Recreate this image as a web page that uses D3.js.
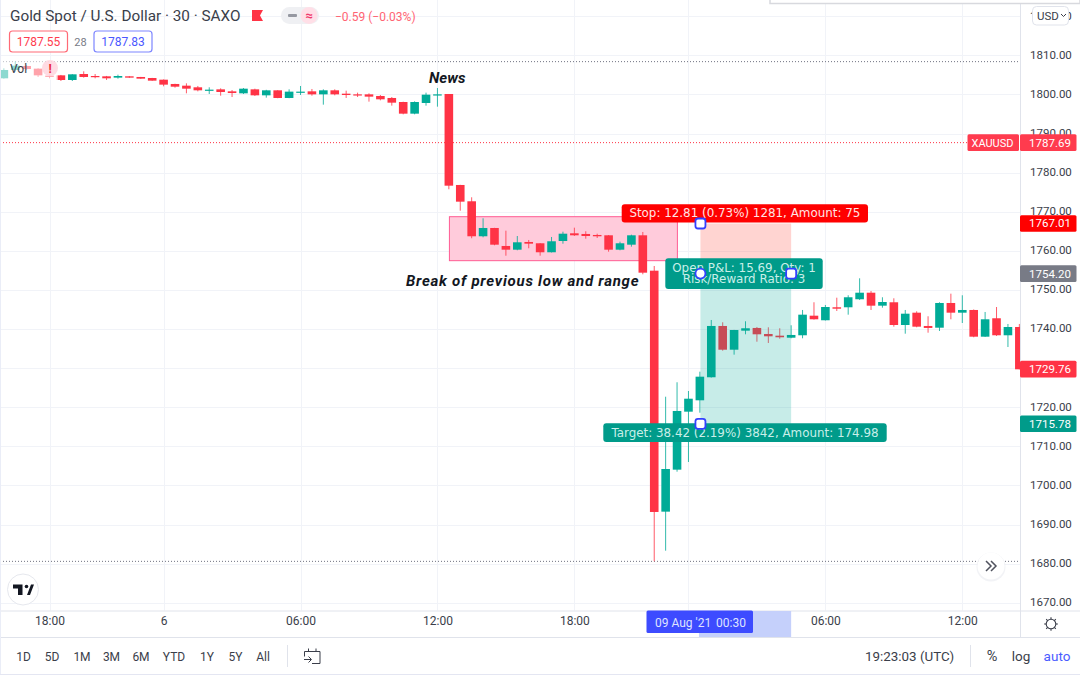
<!DOCTYPE html>
<html><head><meta charset="utf-8">
<script src="https://cdn.jsdelivr.net/npm/d3@7"></script>
<style>
html,body{margin:0;padding:0;background:#fff;overflow:hidden}
svg{display:block}
text{font-family:Roboto,sans-serif}
.lab{font-family:"DejaVu Sans",sans-serif}
</style></head><body>
<svg id="c" width="1080" height="675"></svg>
<script>
// Bar index -4 .. 85 (30 minute bars, index 0 = 18:00 on 5 Aug)
const firstBar = -4;
const opens = [1804.14,1806.27,1807.29,1806.61,1804.82,1804.90,1803.71,1805.24,1804.73,1804.65,1804.31,1804.65,1804.48,1804.22,1803.79,1802.69,1802.26,1801.84,1800.98,1801.32,1800.81,1800.30,1801.32,1799.79,1801.07,1799.11,1800.47,1800.81,1800.04,1801.07,1800.21,1800.04,1800.04,1799.62,1799.11,1798.08,1795.10,1797.83,1799.79,
1800.13,1776.86,1772.69,1763.74,1765.86,1761.26,1760.31,1762.28,1761.95,1759.65,1762.53,1764.50,1764.33,1764.07,1763.99,1760.31,1761.59,1763.99,1754.94,1693.31,1704.05,1718.88,1721.79,1727.68,1740.80,1734.73,1739.60,1740.29,1738.75,1738.32,1737.80,1738.42,1743.43,1742.26,1745.58,1745.58,1747.63,1749.31,1745.99,1746.86,1741.05,1744.20,1740.80,1740.36,1746.68,1744.20,1744.89,1738.06,1742.77,1738.42,1740.54];
const highs = [1806.70,1808.40,1807.50,1806.70,1805.59,1805.00,1805.20,1805.93,1805.24,1804.75,1805.07,1804.70,1804.50,1804.25,1803.85,1802.75,1802.86,1802.18,1801.84,1801.58,1801.15,1801.66,1801.49,1801.20,1801.10,1801.32,1802.18,1801.41,1801.32,1801.32,1800.98,1800.47,1800.30,1799.87,1799.36,1798.15,1798.25,1800.47,1801.66,
1800.13,1776.90,1773.71,1768.34,1765.90,1765.17,1763.81,1762.79,1762.00,1763.56,1764.91,1765.94,1765.02,1764.40,1764.05,1762.36,1764.15,1764.84,1756.14,1722.71,1726.40,1724.17,1729.11,1742.33,1741.74,1739.80,1742.00,1740.54,1740.46,1740.21,1740.98,1744.89,1746.86,1746.17,1748.03,1748.65,1752.99,1749.75,1748.14,1747.88,1744.89,1744.55,1743.28,1746.86,1749.06,1748.65,1745.02,1744.38,1745.65,1741.31,1741.31];
const lows = [1804.05,1805.84,1806.30,1804.48,1804.14,1803.45,1803.45,1804.31,1804.14,1803.71,1804.05,1804.25,1804.00,1803.50,1802.09,1801.75,1800.30,1800.81,1800.13,1799.70,1799.36,1800.13,1799.62,1799.19,1799.05,1799.05,1799.87,1799.70,1797.40,1799.79,1799.11,1799.36,1798.17,1798.51,1797.15,1794.93,1794.93,1797.15,1796.89,
1775.76,1770.28,1763.23,1763.48,1761.44,1758.77,1760.16,1760.67,1758.77,1759.60,1761.84,1763.81,1763.12,1763.30,1759.80,1760.16,1761.08,1754.02,1680.62,1683.33,1703.53,1706.01,1718.62,1727.60,1734.48,1733.46,1738.67,1736.78,1736.45,1737.55,1737.65,1737.65,1742.43,1742.20,1744.63,1743.69,1747.45,1744.89,1745.48,1740.62,1738.83,1740.46,1739.08,1739.52,1742.51,1741.56,1737.91,1738.00,1738.24,1735.42,1729.70];
const closes = [1806.27,1807.38,1806.52,1804.90,1804.65,1803.71,1805.16,1804.48,1804.48,1804.14,1804.73,1804.31,1804.05,1803.54,1802.52,1802.00,1801.49,1801.07,1801.24,1800.64,1800.38,1801.49,1799.79,1801.07,1799.11,1800.73,1800.73,1800.04,1801.07,1800.04,1799.87,1799.79,1799.45,1798.77,1797.91,1795.10,1798.08,1799.96,1800.04,
1776.68,1772.59,1763.74,1765.86,1761.59,1760.31,1762.20,1761.85,1759.65,1762.46,1764.40,1763.99,1763.81,1763.74,1760.31,1761.95,1763.99,1754.43,1693.23,1704.22,1719.06,1722.20,1727.83,1740.80,1734.73,1739.77,1740.21,1738.67,1738.16,1737.91,1738.50,1743.69,1742.51,1745.65,1745.22,1748.14,1749.31,1745.99,1746.93,1741.05,1743.94,1740.62,1740.29,1746.68,1744.20,1744.89,1738.06,1742.51,1738.42,1740.54,1729.72];

const priceTicks = [1670,1680,1690,1700,1710,1720,1730,1740,1750,1760,1770,1780,1790,1800,1810,1820];
const hiddenPriceLabels = [1730];   // fully covered by the 1729.76 tag in the reference
const timeBars = [0,10,22,34,46,56,68,80];
const timeLabels = ["18:00","6","06:00","12:00","18:00","","06:00","12:00"];
const rangeButtons = ["1D","5D","1M","3M","6M","YTD","1Y","5Y","All"];
const rangeCenters = [23.5,52,82,111.5,141,174,207,235.5,263];

const sessionHigh = 1808.4, sessionLow = 1680.6, lastPrice = 1787.69;
const stopPrice = 1767.01, entryPrice = 1754.20, targetPrice = 1715.78, currentPrice = 1729.76;
const positionBars = [57.05,65];          // start / end bar of the long position tool
const rangeBox = {bars:[35.05,55.03], prices:[1768.75,1757.5]};

const RED="#ff3345", TEAL="#00ab97", TXT="#3a3e4a", GRID="#f1f3f8", LINE="#e0e3eb";
const svg=d3.select("#c");
const y=d3.scaleLinear().domain([1670,1810]).range([602.8,55.4]);
const x=d3.scaleLinear().domain([0,80]).range([49.5,962.3]);
const PW=1020, PB=610.5;

svg.append("defs").append("clipPath").attr("id","pc").append("rect").attr("x",0).attr("y",0).attr("width",PW).attr("height",PB);

// grid
const plot=svg.append("g");
plot.selectAll("line.h").data(priceTicks).join("line").attr("x1",0).attr("x2",PW)
  .attr("y1",d=>Math.round(y(d))+.5).attr("y2",d=>Math.round(y(d))+.5).attr("stroke",GRID);
plot.selectAll("line.v").data(timeBars).join("line").attr("y1",0).attr("y2",PB)
  .attr("x1",d=>Math.round(x(d))+.5).attr("x2",d=>Math.round(x(d))+.5).attr("stroke",GRID);

// high/low + last dotted lines
[[sessionHigh,"#6f7280"],[sessionLow,"#6f7280"],[lastPrice,RED]].forEach(([p,c])=>{
  plot.append("line").attr("x1",0).attr("x2",PW).attr("y1",y(p)).attr("y2",y(p))
    .attr("stroke",c).attr("stroke-width",1).attr("stroke-dasharray","1 2");
});

// pink rectangle
plot.append("rect").attr("x",x(rangeBox.bars[0])).attr("width",x(rangeBox.bars[1])-x(rangeBox.bars[0]))
  .attr("y",y(rangeBox.prices[0])).attr("height",y(rangeBox.prices[1])-y(rangeBox.prices[0]))
  .attr("fill","#ffcbdb").attr("stroke","#ff5c93").attr("stroke-width",1);

// candles
const bars=d3.range(opens.length).map(i=>({k:i+firstBar,o:opens[i],h:highs[i],l:lows[i],c:closes[i]}));
const cg=plot.append("g").attr("clip-path","url(#pc)");
const col=d=>d.c>=d.o?TEAL:RED;
cg.selectAll("line.w").data(bars).join("line").attr("x1",d=>x(d.k)).attr("x2",d=>x(d.k))
  .attr("y1",d=>y(d.h)).attr("y2",d=>y(d.l)).attr("stroke",col).attr("stroke-width",1).attr("opacity",.8);
cg.selectAll("rect.b").data(bars).join("rect").attr("x",d=>x(d.k)-4.3).attr("width",8.6)
  .attr("y",d=>y(Math.max(d.o,d.c))).attr("height",d=>Math.max(1.2,Math.abs(y(d.o)-y(d.c)))).attr("fill",col);

// legend fade
plot.append("rect").attr("x",0).attr("y",60).attr("width",58).attr("height",20).attr("fill","#fff").attr("opacity",.55);

// position tool
const px0=x(positionBars[0]), px1=x(positionBars[1]);
plot.append("rect").attr("x",px0).attr("width",px1-px0).attr("y",y(stopPrice)).attr("height",y(entryPrice)-y(stopPrice)).attr("fill","#ff2a1a").attr("fill-opacity",.2);
plot.append("rect").attr("x",px0).attr("width",px1-px0).attr("y",y(entryPrice)).attr("height",y(targetPrice)-y(entryPrice)).attr("fill","#00a994").attr("fill-opacity",.22);

// annotation labels
function tag(x0,y0,x1,y1,fill,lines){
  svg.append("rect").attr("x",x0).attr("y",y0).attr("width",x1-x0).attr("height",y1-y0).attr("rx",3).attr("fill",fill);
  lines.forEach((t,i)=>svg.append("text").attr("class","lab").attr("x",(x0+x1)/2)
    .attr("y",(y0+y1)/2+4+(i-(lines.length-1)/2)*11).attr("text-anchor","middle").attr("font-size",11.9)
    .attr("fill",fill==="#ff0000"?"#ffe4e4":"#c9efe9").text(t));
}
tag(621.7,204.3,868,222.5,"#ff0000",["Stop: 12.81 (0.73%) 1281, Amount: 75"]);
tag(665.3,258.3,822.7,289,"#009b8a",["Open P&L: 15.69, Qty: 1","Risk/Reward Ratio: 3"]);
tag(603.3,423.3,886.7,442,"#009b8a",["Target: 38.42 (2.19%) 3842, Amount: 174.98"]);
const H="#3340ff";
[[px0,y(stopPrice)],[px1,y(entryPrice)],[px0,y(targetPrice)]].forEach(([a,b])=>{
  svg.append("rect").attr("x",a-5).attr("y",b-5).attr("width",10).attr("height",10).attr("rx",2.5).attr("fill","#fff").attr("stroke",H).attr("stroke-width",1.8);
});
svg.append("circle").attr("cx",px0).attr("cy",y(entryPrice)).attr("r",5).attr("fill","#fff").attr("stroke",H).attr("stroke-width",1.8);

// free text
const NOTE='"Open Sans",sans-serif';
svg.append("text").attr("x",429).attr("y",83).attr("font-family",NOTE).attr("font-weight",700).attr("font-style","italic").attr("font-size",15).attr("letter-spacing",.1).attr("fill","#131722").text("News");
svg.append("text").attr("x",406).attr("y",286).attr("font-family",NOTE).attr("font-weight",700).attr("font-style","italic").attr("font-size",15).attr("letter-spacing",.75).attr("fill","#131722").text("Break of previous low and range");

// price axis
svg.append("line").attr("x1",PW+.5).attr("x2",PW+.5).attr("y1",0).attr("y2",637).attr("stroke",LINE);
const ay=svg.append("g").attr("transform",`translate(${PW},-0.8)`)
  .call(d3.axisRight(y).tickValues(priceTicks).tickSize(0).tickPadding(10).tickFormat(d=>hiddenPriceLabels.includes(d)?"":d3.format(".2f")(d)));
ay.select(".domain").remove();
ay.selectAll("text").attr("font-family","Roboto").attr("font-size",11.5).attr("fill",TXT);

// price tags
function ptag(p,fill,txt){
  const c=y(p);
  svg.append("rect").attr("x",1020).attr("y",c-8.3).attr("width",56.5).attr("height",16.6).attr("rx",1.5).attr("fill",fill);
  svg.append("text").attr("x",1050).attr("y",c+4).attr("text-anchor","middle").attr("font-size",11.5).attr("fill","#fff").text(txt);
}
ptag(1787.69,"#ff3b4e","1787.69");
svg.append("rect").attr("x",967.5).attr("y",y(1787.69)-8.3).attr("width",51.5).attr("height",16.6).attr("rx",1.5).attr("fill","#ff3b4e");
svg.append("text").attr("x",992.5).attr("y",y(1787.69)+4).attr("text-anchor","middle").attr("font-size",11).attr("fill","#fff").text("XAUUSD");
ptag(stopPrice,"#ff0000","1767.01");
ptag(entryPrice,"#787b86","1754.20");
ptag(currentPrice,RED,"1729.76");
ptag(targetPrice,"#009b8a","1715.78");

// USD dropdown
svg.append("rect").attr("x",1032.5).attr("y",6.5).attr("width",36).attr("height",18.5).attr("rx",4).attr("fill","#fff").attr("stroke",LINE);
svg.append("text").attr("x",1037).attr("y",19.5).attr("font-size",11.5).attr("fill",TXT).text("USD");
svg.append("path").attr("d","M1061 14l2.5 2.5l2.5-2.5").attr("fill","none").attr("stroke",TXT).attr("stroke-width",1);

// time axis
svg.append("line").attr("x1",0).attr("x2",1080).attr("y1",PB+.5).attr("y2",PB+.5).attr("stroke",LINE);
svg.append("line").attr("x1",0).attr("x2",1080).attr("y1",637.5).attr("y2",637.5).attr("stroke",LINE);
svg.append("rect").attr("x",px0-1.5).attr("y",611).attr("width",px1-px0+1.5).attr("height",26).attr("fill","#c5d0fb");
const ax=svg.append("g").attr("transform",`translate(0,${PB})`)
  .call(d3.axisBottom(x).tickValues(timeBars).tickSize(0).tickPadding(5.5).tickFormat((d,i)=>timeLabels[i]));
ax.select(".domain").remove();
ax.selectAll("text").attr("font-family","Roboto").attr("font-size",12).attr("fill",TXT);
svg.append("rect").attr("x",646.5).attr("y",610.5).attr("width",106.5).attr("height",22.5).attr("rx",1.5).attr("fill","#3d4bff");
svg.append("text").attr("x",655).attr("y",626.5).attr("font-size",12).attr("fill","#dfe3ff").text("09 Aug '21");
svg.append("text").attr("x",716).attr("y",626.5).attr("font-size",12).attr("fill","#dfe3ff").text("00:30");

// gear
const gear=svg.append("g").attr("transform","translate(1051,624)").attr("fill","none").attr("stroke",TXT).attr("stroke-width",1.1);
gear.append("circle").attr("r",4.8);
d3.range(8).forEach(i=>{const a=i*Math.PI/4;gear.append("line").attr("x1",4.8*Math.cos(a)).attr("y1",4.8*Math.sin(a)).attr("x2",6.8*Math.cos(a)).attr("y2",6.8*Math.sin(a));});

// header
svg.append("text").attr("x",10).attr("y",21).attr("font-size",15.3).attr("fill",TXT).text("Gold Spot / U.S. Dollar · 30 · SAXO");
svg.append("path").attr("d","M252 10h11l-3 5.5l3 5.5h-11z").attr("fill",RED);
svg.append("rect").attr("x",281).attr("y",7).attr("width",38).attr("height",17).attr("rx",8.5).attr("fill","#eff0f3");
svg.append("circle").attr("cx",309).attr("cy",15.5).attr("r",8.5).attr("fill","#ffdfe7");
svg.append("rect").attr("x",288).attr("y",14).attr("width",9).attr("height",3).attr("rx",1).attr("fill","#9598a1");
svg.append("text").attr("x",309).attr("y",20).attr("text-anchor","middle").attr("font-size",13).attr("font-weight",700).attr("fill","#f0386b").text("≈");
svg.append("text").attr("x",335).attr("y",21).attr("font-size",12).attr("fill","#ff6473").text("−0.59 (−0.03%)");
svg.append("rect").attr("x",9.5).attr("y",31).attr("width",58).attr("height",21).attr("rx",3).attr("fill","#fff").attr("stroke","#ff6a76").attr("stroke-width",1.2);
svg.append("text").attr("x",38.5).attr("y",46).attr("text-anchor","middle").attr("font-size",12).attr("fill","#ff3b4e").text("1787.55");
svg.append("text").attr("x",80.5).attr("y",46).attr("text-anchor","middle").attr("font-size",11).attr("fill","#787b86").text("28");
svg.append("rect").attr("x",94).attr("y",31).attr("width",58).attr("height",21).attr("rx",3).attr("fill","#fff").attr("stroke","#7d86ff").attr("stroke-width",1.2);
svg.append("text").attr("x",123).attr("y",46).attr("text-anchor","middle").attr("font-size",12).attr("fill","#4a57ff").text("1787.83");
svg.append("circle").attr("cx",50).attr("cy",68).attr("r",8).attr("fill","#ffd5de").attr("opacity",.85);
svg.append("text").attr("x",50).attr("y",73).attr("text-anchor","middle").attr("font-size",12).attr("font-weight",700).attr("fill","#e8283c").text("!");
svg.append("text").attr("x",10).attr("y",73).attr("font-size",12).attr("fill",TXT).text("Vol");

// logo + scroll button
svg.append("circle").attr("cx",23).attr("cy",589.5).attr("r",15.5).attr("fill","#fff").attr("stroke","#e6e8ee");
svg.append("path").attr("d","M13 584.5h9.5v10.5h-4.5v-6.5H13z M27 595l4-10.5h3l-4 10.5z").attr("fill","#131722");
svg.append("circle").attr("cx",26.5).attr("cy",586.5).attr("r",1.8).attr("fill","#131722");
svg.append("circle").attr("cx",991).attr("cy",567).attr("r",14.5).attr("fill","#e9ebf0").attr("opacity",.6);
svg.append("circle").attr("cx",991).attr("cy",566).attr("r",13.5).attr("fill","#fff");
svg.append("path").attr("d","M986 561l5 5l-5 5M991 561l5 5l-5 5").attr("fill","none").attr("stroke","#50535e").attr("stroke-width",1.5);

// bottom bar
svg.selectAll("text.rb").data(rangeButtons).join("text").attr("class","rb").attr("x",(d,i)=>rangeCenters[i]).attr("y",660.5)
  .attr("text-anchor","middle").attr("font-size",12).attr("fill",TXT).text(d=>d);
svg.append("line").attr("x1",287.5).attr("x2",287.5).attr("y1",645).attr("y2",667).attr("stroke",LINE);
svg.append("path").attr("d","M304.5 651.5h15.5v12h-8 M304.5 651.5v5 M308.5 648.5v3 M316 648.5v3 M304 659.5h7 M308.5 656.5l3 3l-3 3").attr("fill","none").attr("stroke",TXT).attr("stroke-width",1);
svg.append("text").attr("x",865).attr("y",660.5).attr("font-size",13.4).attr("fill",TXT).text("19:23:03 (UTC)");
svg.append("line").attr("x1",970.5).attr("x2",970.5).attr("y1",645).attr("y2",667).attr("stroke",LINE);
svg.append("text").attr("x",992).attr("y",661).attr("text-anchor","middle").attr("font-size",14.5).attr("fill",TXT).text("%");
svg.append("text").attr("x",1021).attr("y",660.5).attr("text-anchor","middle").attr("font-size",13.5).attr("fill",TXT).text("log");
svg.append("text").attr("x",1057).attr("y",660.5).attr("text-anchor","middle").attr("font-size",13.5).attr("fill","#4a5bff").text("auto");

// frame + top panel
svg.append("line").attr("x1",.5).attr("x2",.5).attr("y1",0).attr("y2",675).attr("stroke","#eaedf7");
svg.append("line").attr("x1",0).attr("x2",1080).attr("y1",674.5).attr("y2",674.5).attr("stroke","#e4e6f2");
svg.append("rect").attr("x",770).attr("y",-2).attr("width",310).attr("height",5.5).attr("fill","#fff").attr("stroke","#d8d9de").attr("stroke-width",1.5);
</script>
</body></html>
